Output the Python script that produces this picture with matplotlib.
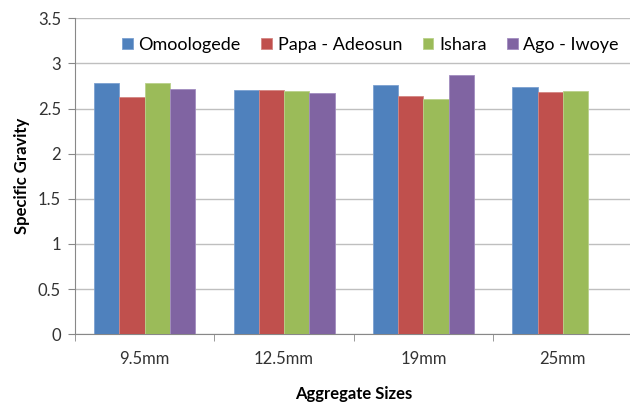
import numpy as np
import matplotlib
matplotlib.use("Agg")
import matplotlib.pyplot as plt

sizes = ["9.5mm", "12.5mm", "19mm", "25mm"]
omoologede = [2.78, 2.71, 2.76, 2.74]
papa_adeosun = [2.63, 2.71, 2.64, 2.68]
ishara = [2.78, 2.70, 2.61, 2.70]
ago_iwoye = [2.72, 2.67, 2.87, np.nan]

series = [("Omoologede", omoologede, "#4F81BD", "#7BA0D0"),
          ("Papa - Adeosun", papa_adeosun, "#C0504D", "#D48683"),
          ("Ishara", ishara, "#9BBB59", "#B9D18A"),
          ("Ago - Iwoye", ago_iwoye, "#8064A2", "#A28CC0")]

plt.rcParams['font.family'] = ['Lato', 'DejaVu Sans']

fig = plt.figure(figsize=(6.3, 4.07), dpi=100)
ax = fig.add_axes([0.119, 0.179, 0.885, 0.776])

x = np.arange(len(sizes))
w = 0.181
for i, (name, vals, col, edge) in enumerate(series):
    ax.bar(x + (i - 1.5) * w, vals, w, color=col, edgecolor=edge, linewidth=0.6,
           label=name, zorder=3)

ax.set_xlim(-0.5, 3.5)
ax.set_ylim(0, 3.5)
ax.set_yticks(np.arange(0, 3.51, 0.5))
ax.set_yticklabels(["0", "0.5", "1", "1.5", "2", "2.5", "3", "3.5"])
ax.set_xticks(x)
ax.set_xticklabels(sizes)
ax.set_xticks(np.arange(-0.5, 3.6, 1), minor=True)
ax.tick_params(axis='x', which='major', length=0, pad=12, labelsize=12, colors='#333333')
ax.tick_params(axis='x', which='minor', length=5, color='#888888')
ax.tick_params(axis='y', length=5, color='#888888', labelsize=12, labelcolor='#333333', pad=5)

ax.grid(axis='y', color='#BFBFBF', linewidth=1, zorder=0)
for s in ['top', 'right']:
    ax.spines[s].set_visible(False)
for s in ['left', 'bottom']:
    ax.spines[s].set_color('#888888')

ax.set_xlabel("Aggregate Sizes", fontsize=12, fontweight='bold', labelpad=14)
ax.set_ylabel("Specific Gravity", fontsize=12, fontweight='bold', labelpad=6)

ax.legend(loc='center', bbox_to_anchor=(0.53, 0.916), ncol=4, frameon=False,
          fontsize=13, handlelength=0.6, handleheight=0.6, handletextpad=0.3,
          columnspacing=1.15)

fig.savefig("out.png", dpi=100)
